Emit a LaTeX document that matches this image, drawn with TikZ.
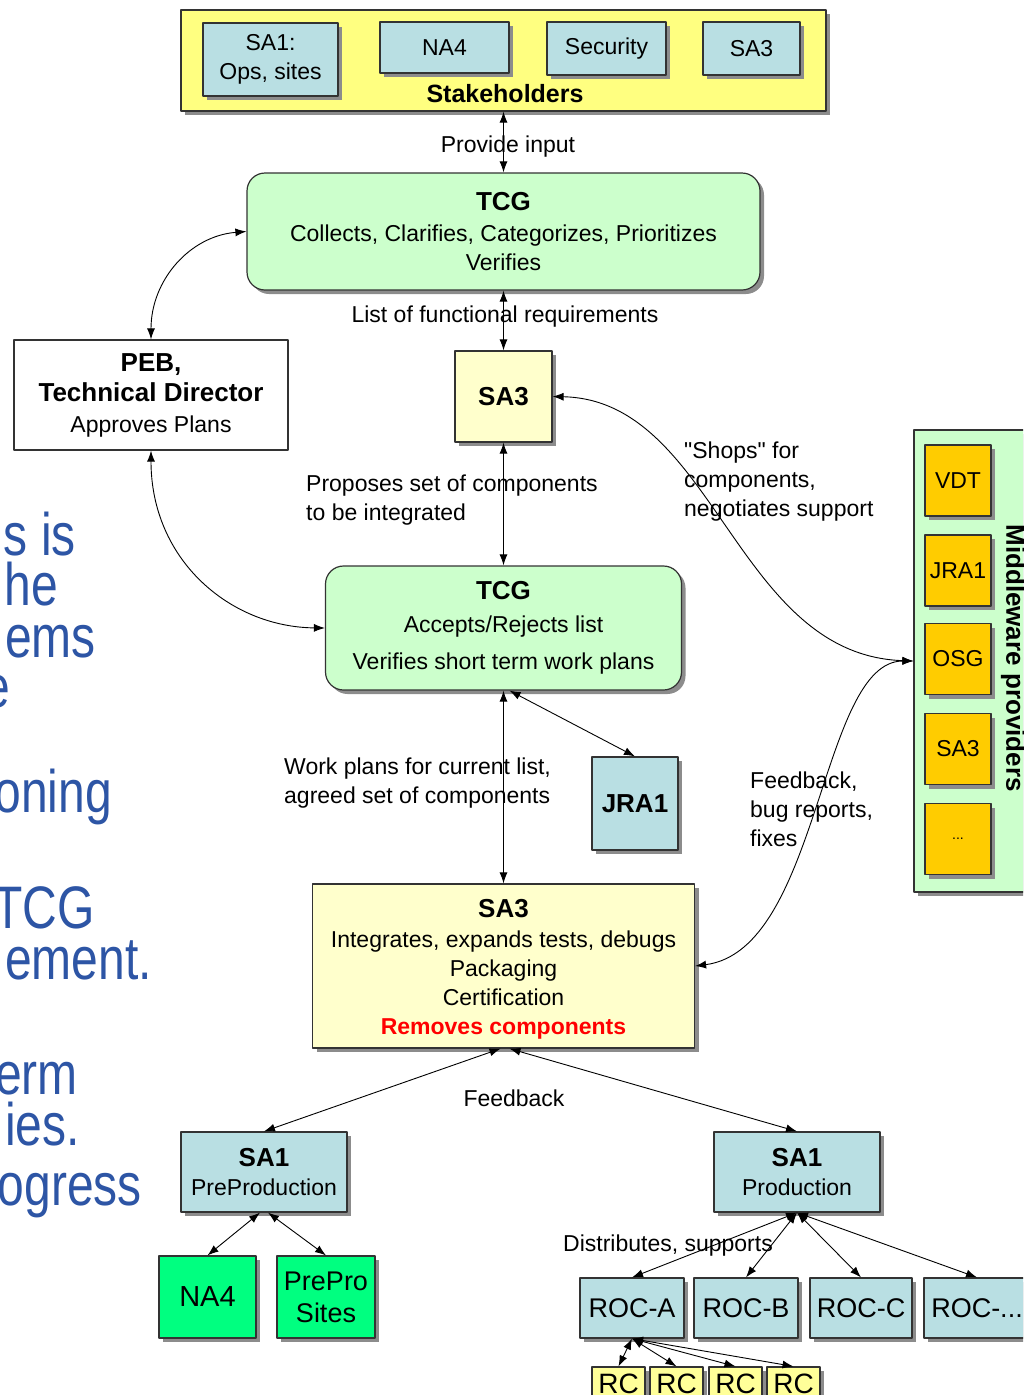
\documentclass[tikz,border=0pt]{standalone}
\usepackage{fontspec}
\setmainfont{Liberation Sans}
\newfontfamily\slidefont[FakeStretch=0.8]{Liberation Sans}
\usetikzlibrary{arrows.meta}
\usetikzlibrary{shadows}
\newcommand{\fsz}[2]{\fontsize{#1}{#2}\selectfont}
\definecolor{stakeyellow}{RGB}{255,255,128}
\definecolor{paleyellow}{RGB}{255,255,204}
\definecolor{rcyellow}{RGB}{255,255,153}
\definecolor{lightblue}{RGB}{185,223,227}
\definecolor{lightgreen}{RGB}{204,255,204}
\definecolor{mworange}{RGB}{255,204,0}
\definecolor{brightgreen}{RGB}{0,255,128}
\definecolor{slideblue}{RGB}{45,85,165}
\tikzset{
  box/.style={draw=black!80, line width=1.2pt, inner sep=0pt, align=center, font=\fsz{23}{29}},
  plate/.style={box, drop shadow={shadow xshift=4pt, shadow yshift=-4pt, fill=black!45, opacity=1}},
  lbl/.style={inner sep=0pt, align=left, font=\fsz{23}{29}},
  slidetxt/.style={inner sep=0pt, anchor=base east, text=slideblue, font=\slidefont\fsz{60}{64}},
  conn/.style={<->, line width=0.9pt}
}
\begin{document}
\begin{tikzpicture}[x=1pt,y=-1pt,line cap=round,line join=round,>={Latex[length=11pt,width=8pt]}]
\useasboundingbox (0,0) rectangle (1023,1395);
\clip (0,0) rectangle (1023,1395);
% slide text behind the diagram
\node[slidetxt] (s1) at (76,555) {s is};
\node[slidetxt] (s2) at (58,605) {he};
\node[slidetxt] (s3) at (96,657) {ems};
\node[slidetxt] (s4) at (10,707) {e};
\node[slidetxt] (s5) at (112,812) {oning};
\node[slidetxt] (s6) at (95,928) {TCG};
\node[slidetxt] (s7) at (152,979) {ement.};
\node[slidetxt] (s8) at (78,1094) {erm};
\node[slidetxt] (s9) at (80,1145) {ies.};
\node[slidetxt] (s10) at (142,1205) {ogress};
% stakeholders
\node[plate, fill=stakeyellow, minimum width=645pt, minimum height=101pt] (stake) at (503.5,60.5) {};
\node[plate, fill=lightblue, minimum width=135pt, minimum height=73pt] (sa1s) at (270.5,59.5) {SA1:\\Ops, sites};
\node[plate, fill=lightblue, minimum width=129pt, minimum height=51pt] (na4s) at (444.5,47.5) {NA4};
\node[plate, fill=lightblue, minimum width=119pt, minimum height=53pt] (secs) at (606.5,48.5) {Security};
\node[plate, fill=lightblue, minimum width=97pt, minimum height=53pt] (sa3s) at (751.5,48.5) {SA3};
\node[inner sep=0pt, font=\bfseries\fsz{25}{30}] (stakelbl) at (505,94) {Stakeholders};
% TCG, SA3, PEB
\node[plate, fill=lightgreen, rounded corners=18pt, minimum width=513pt, minimum height=117pt] (tcgA) at (503.5,231.5)
  {{\bfseries\fsz{26}{29}TCG}\\[2pt]Collects, Clarifies, Categorizes, Prioritizes\\Verifies};
\node[plate, fill=paleyellow, minimum width=97pt, minimum height=91pt, font=\bfseries\fsz{26}{30}] (sa3a) at (503.5,396.5) {SA3};
\node[box, fill=white, minimum width=274pt, minimum height=110pt] (peb) at (151,395)
  {{\bfseries\fsz{26}{32}PEB,}\\[1pt]{\bfseries\fsz{26}{32}Technical Director}\\[2pt]Approves Plans};
\node[plate, fill=lightgreen, rounded corners=18pt, minimum width=356pt, minimum height=124pt] (tcgB) at (503.5,628)
  {{\bfseries\fsz{26}{29}TCG}\\[4pt]Accepts/Rejects list\\[8pt]Verifies short term work plans};
\node[plate, fill=lightblue, minimum width=86pt, minimum height=93pt, font=\bfseries\fsz{26}{30}] (jra) at (635,803.5) {JRA1};
% middleware providers
\node[plate, fill=lightgreen, minimum width=126pt, minimum height=462pt] (mw) at (977,661) {};
\node[plate, fill=mworange, minimum width=66pt, minimum height=71pt] (vdt) at (958,480.5) {VDT};
\node[plate, fill=mworange, minimum width=66pt, minimum height=71pt] (jram) at (958,570.5) {JRA1};
\node[plate, fill=mworange, minimum width=66pt, minimum height=71pt] (osg) at (958,659) {OSG};
\node[plate, fill=mworange, minimum width=66pt, minimum height=71pt] (sa3m) at (958,749) {SA3};
\node[plate, fill=mworange, minimum width=66pt, minimum height=71pt, font=\fsz{14}{16}] (more) at (958,839) {...};
\node[inner sep=0pt, rotate=-90, font=\bfseries\fsz{26}{30}] (mwlbl) at (1013,658) {Middleware providers};
% SA3 integration
\node[plate, fill=paleyellow, minimum width=382pt, minimum height=164pt] (sa3b) at (503.5,966)
  {\strut\\[-25pt]{\bfseries\fsz{26}{29}SA3}\\[1pt]Integrates, expands tests, debugs\\Packaging\\Certification\\{\color{red}\bfseries Removes components}};
% SA1 and sites
\node[plate, fill=lightblue, minimum width=166pt, minimum height=80pt] (preprod) at (264,1172)
  {{\bfseries\fsz{26}{30}SA1}\\PreProduction};
\node[plate, fill=lightblue, minimum width=166pt, minimum height=80pt] (prod) at (797,1172)
  {{\bfseries\fsz{26}{30}SA1}\\Production};
\node[plate, fill=brightgreen, minimum width=97pt, minimum height=82pt, font=\fsz{29}{32}] (na4b) at (207.5,1297) {NA4};
\node[plate, fill=brightgreen, minimum width=98pt, minimum height=82pt, font=\fsz{27}{32}] (prepro) at (326,1297) {PrePro\\Sites};
\node[plate, fill=lightblue, minimum width=104pt, minimum height=60pt, font=\fsz{27}{30}] (roca) at (632,1308) {ROC-A};
\node[plate, fill=lightblue, minimum width=104pt, minimum height=60pt, font=\fsz{27}{30}] (rocb) at (746,1308) {ROC-B};
\node[plate, fill=lightblue, minimum width=102pt, minimum height=60pt, font=\fsz{27}{30}] (rocc) at (861,1308) {ROC-C};
\node[plate, fill=lightblue, minimum width=106pt, minimum height=60pt, font=\fsz{27}{30}] (rocd) at (977,1308) {ROC-...};
\node[plate, fill=rcyellow, minimum width=53pt, minimum height=34pt, font=\fsz{28}{30}] (rc1) at (618.5,1384) {RC};
\node[plate, fill=rcyellow, minimum width=53pt, minimum height=34pt, font=\fsz{28}{30}] (rc2) at (676.5,1384) {RC};
\node[plate, fill=rcyellow, minimum width=53pt, minimum height=34pt, font=\fsz{28}{30}] (rc3) at (735.5,1384) {RC};
\node[plate, fill=rcyellow, minimum width=53pt, minimum height=34pt, font=\fsz{28}{30}] (rc4) at (793.5,1384) {RC};
% connectors
\draw[conn] (stake.south) -- (tcgA.north);
\draw[conn] (tcgA.south) -- (sa3a.north);
\draw[conn] (sa3a.south) -- (tcgB.north);
\draw[conn] (tcgB.south) -- (sa3b.north);
\draw[conn] ([xshift=6pt]tcgB.south) -- (jra.north);
\draw[conn] (tcgA.west) .. controls (190,236) and (151,280) .. (peb.north);
\draw[conn] (peb.south) .. controls (151,560) and (230,627) .. (tcgB.west);
\draw[conn] (sa3a.east) .. controls (715,400) and (735,655) .. (mw.west);
\draw[conn] (mw.west) .. controls (820,661) and (820,950) .. (sa3b.east);
\draw[conn] ([xshift=-3pt]sa3b.south) -- (preprod.north);
\draw[conn] ([xshift=6pt]sa3b.south) -- (prod.north);
\draw[conn] ([xshift=-4pt]preprod.south) -- (na4b.north);
\draw[conn] ([xshift=4pt]preprod.south) -- (prepro.north);
\draw[conn] (prod.south) -- (roca.north);
\draw[conn] (prod.south) -- (rocb.north);
\draw[conn] (prod.south) -- (rocc.north);
\draw[conn] (prod.south) -- (rocd.north);
\draw[conn] (roca.south) -- (rc1.north);
\draw[conn] (roca.south) -- (rc2.north);
\draw[conn] (roca.south) -- (rc3.north);
\draw[conn] (roca.south) -- (rc4.north);
% connector labels
\node[lbl] (provlbl) at (508,147) {Provide input};
\node[lbl] (listlbl) at (505,317) {List of functional requirements};
\node[lbl, anchor=west] (proplbl) at (306,500) {Proposes set of components\\to be integrated};
\node[lbl, anchor=west] (shoplbl) at (684,482) {\textquotedbl Shops\textquotedbl{} for\\components,\\negotiates support};
\node[lbl, anchor=west] (worklbl) at (284,783) {Work plans for current list,\\agreed set of components};
\node[lbl, anchor=west] (fdbklbl) at (750,809) {Feedback,\\bug reports,\\fixes};
\node[lbl] (feedlbl) at (514,1098) {Feedback};
\node[lbl] (distlbl) at (668,1246) {Distributes, supports};
\end{tikzpicture}
\end{document}
